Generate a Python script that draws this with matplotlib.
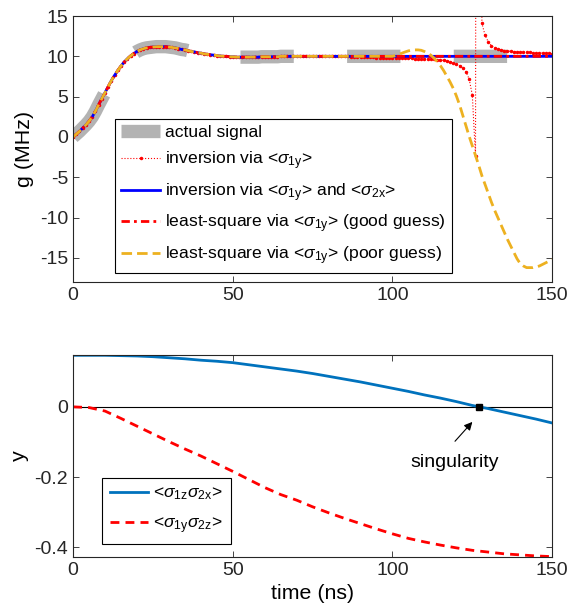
import numpy as np
import matplotlib
matplotlib.use('Agg')
import matplotlib.pyplot as plt

plt.rcParams['font.family'] = ['Liberation Sans', 'DejaVu Sans']
plt.rcParams['mathtext.fontset'] = 'custom'
plt.rcParams['mathtext.rm'] = 'Liberation Sans'
plt.rcParams['mathtext.it'] = 'Liberation Sans:italic'
plt.rcParams['axes.unicode_minus'] = False

# --- data (time grid in ns) ---
t_ns = np.arange(0, 151)

# actual signal g(t) for t = 0..64 ns, then flat at 10 MHz
g_rise = [0.0, 0.35, 0.7, 1.1, 1.5, 1.95, 2.5, 3.2, 4.0, 4.75,
          5.5, 6.25, 7.0, 7.65, 8.25, 8.8, 9.3, 9.7, 10.05, 10.35,
          10.6, 10.8, 10.95, 11.05, 11.1, 11.15, 11.2, 11.2, 11.2, 11.2,
          11.15, 11.1, 11.05, 10.95, 10.85, 10.8, 10.7, 10.6, 10.55, 10.45,
          10.4, 10.3, 10.25, 10.2, 10.15, 10.1, 10.05, 10.0, 10.0, 9.95,
          9.95, 9.9, 9.9, 9.9, 9.9, 9.9, 9.9, 9.9, 9.9, 9.95,
          9.95, 9.95, 9.95, 9.95, 9.95]
g_plateau = 10.0
g_actual = np.concatenate([g_rise, np.full(len(t_ns) - len(g_rise), g_plateau)])

# inversion via <s1y>, t = 85..150 ns (before that it follows the signal)
inv_start = 85
inv_tail = [10.0, 9.98, 9.96, 9.95, 9.92, 9.9, 9.9, 9.88, 9.87, 9.86,
            9.85, 9.84, 9.83, 9.82, 9.81, 9.8, 9.79, 9.78, 9.77, 9.76,
            9.75, 9.74, 9.73, 9.72, 9.71, 9.7, 9.68, 9.66, 9.63, 9.6,
            9.55, 9.5, 9.45, 9.35, 9.2, 9.05, 8.85, 8.55, 8.1, 7.2,
            5.2, -2.4, 300.0, 14.1, 12.6, 11.8, 11.3, 11.05, 10.9, 10.8,
            10.72, 10.66, 10.62, 10.58, 10.55, 10.53, 10.51, 10.5, 10.48, 10.46,
            10.45, 10.43, 10.41, 10.39, 10.37, 10.35]

# least-square via <s1y>, poor guess, t = 100..150 ns
poor_start = 100
poor_tail = [10.0, 10.1, 10.25, 10.4, 10.55, 10.68, 10.76, 10.8, 10.8, 10.75,
             10.6, 10.4, 10.15, 9.8, 9.35, 8.85, 8.25, 7.55, 6.85, 6.05,
             5.1, 4.0, 2.7, 1.4, 0.1, -1.1, -2.3, -3.5, -4.8, -5.9,
             -7.0, -8.1, -9.1, -10.0, -10.9, -11.8, -12.7, -13.5, -14.3, -15.1,
             -15.7, -16.0, -16.2, -16.2, -16.2, -16.1, -16.0, -15.8, -15.6, -15.4,
             -15.2]

g_inv1 = g_actual.copy()
g_inv1[inv_start:] = inv_tail
g_inv2 = g_actual.copy()
g_good = g_actual.copy()
g_poor = g_actual.copy()
g_poor[poor_start:] = poor_tail

# lower panel, 5 ns grid
t_b = np.arange(0, 151, 5)
s1z_s2x = [0.147, 0.147, 0.147, 0.146, 0.145, 0.143, 0.140, 0.137, 0.133, 0.130,
           0.126, 0.120, 0.114, 0.108, 0.102, 0.095, 0.087, 0.079, 0.071, 0.062,
           0.053, 0.044, 0.034, 0.025, 0.015, 0.004, -0.005, -0.015, -0.025, -0.035,
           -0.046]
s1y_s2z = [0.0, -0.002, -0.012, -0.033, -0.055, -0.077, -0.099, -0.120, -0.140, -0.162,
           -0.184, -0.207, -0.230, -0.250, -0.266, -0.285, -0.302, -0.318, -0.333, -0.348,
           -0.362, -0.375, -0.385, -0.394, -0.402, -0.409, -0.414, -0.419, -0.422, -0.425,
           -0.427]
singularity_t = 127.2

fig = plt.figure(figsize=(5.71, 6.16), dpi=100)
ax1 = fig.add_axes([0.128, 0.542, 0.839, 0.432])
ax2 = fig.add_axes([0.128, 0.0958, 0.839, 0.328])

ax1.plot(t_ns, g_actual, color='#b3b3b3', lw=9.6, linestyle=(0, (4.0, 4.0)),
         solid_capstyle='butt', label='actual signal')
ax1.plot(t_ns, g_inv1, color='red', lw=0.8, linestyle=':', marker='.', ms=3,
         label=r'inversion via <$\sigma_{\mathrm{1y}}$>')
ax1.plot(t_ns, g_inv2, color='blue', lw=2,
         label=r'inversion via <$\sigma_{\mathrm{1y}}$> and <$\sigma_{\mathrm{2x}}$>')
ax1.plot(t_ns, g_good, color='red', lw=2, linestyle=(0, (3, 1.5, 1, 1.5)),
         label=r'least-square via <$\sigma_{\mathrm{1y}}$> (good guess)')
ax1.plot(t_ns, g_poor, color='#EDB120', lw=2, linestyle=(0, (3.8, 1.8)),
         label=r'least-square via <$\sigma_{\mathrm{1y}}$> (poor guess)')

ax1.set_xlim(0, 150)
ax1.set_ylim(-18, 15)
ax1.set_xticks([0, 50, 100, 150])
ax1.set_yticks(np.arange(-15, 16, 5))
ax1.set_ylabel('g (MHz)', fontsize=15.4)
leg1 = ax1.legend(loc='lower left', bbox_to_anchor=(0.088, 0.034), fontsize=12.6,
                  fancybox=False, framealpha=1, edgecolor='k', handlelength=2.2,
                  borderpad=0.35, labelspacing=0.52, handletextpad=0.3, borderaxespad=0)
leg1.get_frame().set_linewidth(0.8)

ax2.axhline(0, color='k', lw=0.8)
ax2.plot(t_b, s1z_s2x, color='#0072BD', lw=2,
         label=r'<$\sigma_{\mathrm{1z}}\sigma_{\mathrm{2x}}$>')
ax2.plot(t_b, s1y_s2z, color='red', lw=2, linestyle=(0, (3.2, 2.2)),
         label=r'<$\sigma_{\mathrm{1y}}\sigma_{\mathrm{2z}}$>')
ax2.plot([singularity_t], [0], 's', color='k', ms=4.5)
ax2.annotate('', xy=(125.6, -0.037), xytext=(119, -0.104),
             arrowprops=dict(arrowstyle='-|>', color='k', lw=0.8, mutation_scale=12))
ax2.text(119.5, -0.16, 'singularity', ha='center', va='center', fontsize=14)

ax2.set_xlim(0, 150)
ax2.set_ylim(-0.428, 0.148)
ax2.set_xticks([0, 50, 100, 150])
ax2.set_yticks([-0.4, -0.2, 0])
ax2.set_yticklabels(['-0.4', '-0.2', '0'])
ax2.set_ylabel('y', fontsize=15.4)
ax2.set_xlabel('time (ns)', fontsize=15.4)
leg2 = ax2.legend(loc='lower left', bbox_to_anchor=(0.06, 0.064), fontsize=12.6,
                  fancybox=False, framealpha=1, edgecolor='k', handlelength=2.2,
                  borderpad=0.45, labelspacing=0.75, handletextpad=0.3, borderaxespad=0)
leg2.get_frame().set_linewidth(0.8)

for ax in (ax1, ax2):
    ax.tick_params(direction='in', top=True, right=True, labelsize=14,
                   length=4, width=0.6, colors='#262626')
    for sp in ax.spines.values():
        sp.set_color('#262626')
        sp.set_linewidth(0.8)

fig.savefig('out.png', dpi=100)
